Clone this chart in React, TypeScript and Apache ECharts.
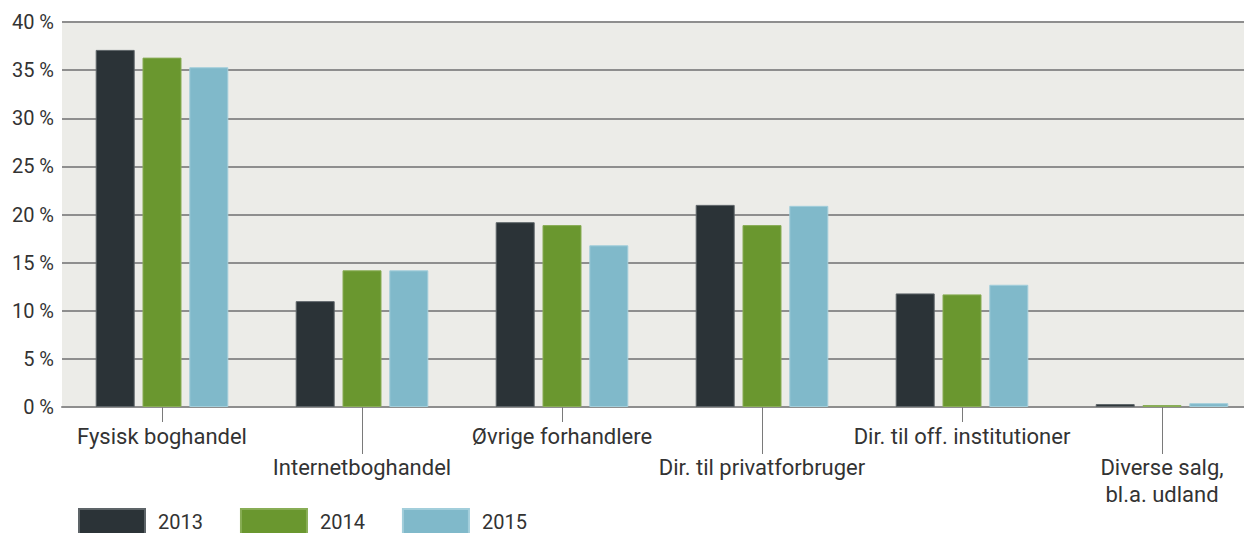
import React, { useEffect, useRef } from "react";
import * as echarts from "echarts";

const categories = [
  "Fysisk boghandel",
  "Internetboghandel",
  "Øvrige forhandlere",
  "Dir. til privatforbruger",
  "Dir. til off. institutioner",
  "Diverse salg,\nbl.a. udland",
];
const years = ["2013", "2014", "2015"];
const values2013 = [37.1, 11.0, 19.2, 21.0, 11.8, 0.3];
const values2014 = [36.3, 14.2, 18.9, 18.9, 11.7, 0.2];
const values2015 = [35.3, 14.2, 16.8, 20.9, 12.7, 0.4];
const yTicks = { min: 0, max: 40, interval: 5 };

const colors = ["#2b3337", "#6a972f", "#80b9ca"];
const borders = ["#5d6468", "#88ad55", "#a2cedb"];

export default function App() {
  const ref = useRef<HTMLDivElement>(null);
  useEffect(() => {
    if (!ref.current) return;
    const chart = echarts.init(ref.current, undefined, { renderer: "svg" });
    const seriesData = [values2013, values2014, values2015];
    chart.setOption({
      animation: false,
      textStyle: { fontFamily: "Roboto" },
      legend: {
        data: years,
        icon: "rect",
        itemWidth: 66,
        itemHeight: 25,
        left: 78,
        top: 508,
        padding: 0,
        itemGap: 37,
        textStyle: { fontSize: 20, color: "#333", padding: [0, 0, 0, 8], fontFamily: "Roboto" },
      },
      grid: {
        left: 62,
        width: 1200,
        top: 22,
        bottom: 126,
        show: true,
        backgroundColor: "#ecece8",
        borderWidth: 0,
      },
      xAxis: [
        {
          type: "category",
          data: categories,
          position: "bottom",
          axisLine: { show: true, lineStyle: { color: "#8e8e8e", width: 2 } },
          axisTick: {
            show: true,
            alignWithLabel: true,
            interval: (i: number) => i % 2 === 0,
            length: 15,
            lineStyle: { color: "#7a7a7a", width: 1 },
          },
          axisLabel: {
            interval: 0,
            margin: 16,
            hideOverlap: false,
            formatter: (v: string, i: number) => {
              const lines = v.split("\n").map((l) => `{t|${l}}`).join("\n");
              return i % 2 === 1 ? `{g| }\n${lines}` : lines;
            },
            rich: {
              t: { fontSize: 22, lineHeight: 27, color: "#333", fontFamily: "Roboto" },
              g: { fontSize: 22, lineHeight: 31 },
            },
          },
        },
        {
          type: "category",
          data: categories,
          position: "bottom",
          axisLine: { show: false },
          axisLabel: { show: false },
          axisTick: {
            show: true,
            alignWithLabel: true,
            interval: (i: number) => i % 2 === 1,
            length: 47,
            lineStyle: { color: "#7a7a7a", width: 1 },
          },
        },
      ],
      yAxis: {
        type: "value",
        min: yTicks.min,
        max: yTicks.max,
        interval: yTicks.interval,
        axisLine: { show: false },
        axisTick: { show: false },
        axisLabel: { formatter: "{value} %", fontSize: 20, color: "#333", margin: 8, fontFamily: "Roboto" },
        splitLine: { lineStyle: { color: "#8e8e8e", width: 2 } },
      },
      series: years.map((y, k) => ({
        name: y,
        type: "bar",
        xAxisIndex: 0,
        data: seriesData[k],
        barWidth: 39,
        barGap: "20%",
        itemStyle: { color: colors[k], borderColor: borders[k], borderWidth: 1 },
      })),
    });
    return () => chart.dispose();
  }, []);
  return (
    <div style={{ position: "fixed", left: 0, top: 0, width: 1244, height: 533, overflow: "hidden", background: "#fff" }}>
      <div ref={ref} style={{ width: 1262, height: 533 }} />
    </div>
  );
}
